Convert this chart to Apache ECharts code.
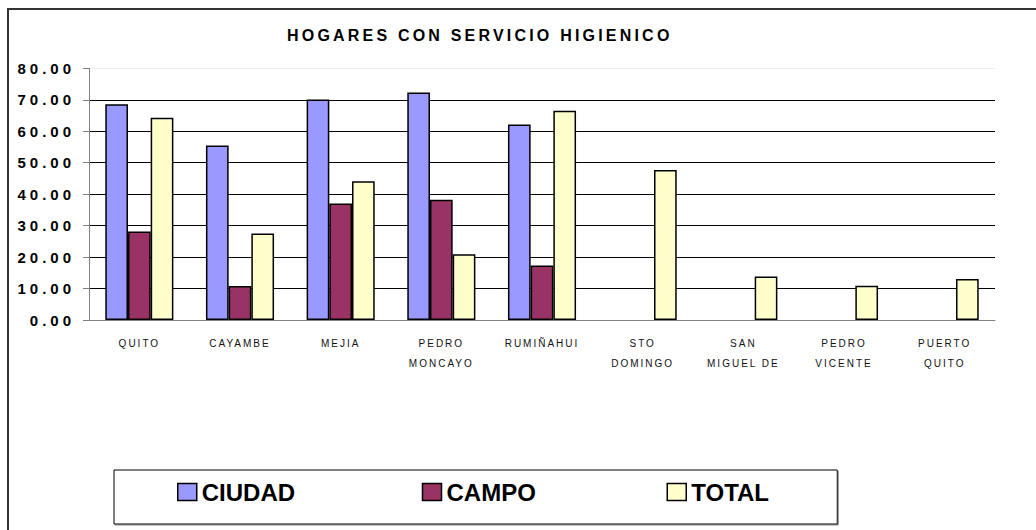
<!DOCTYPE html>
<html>
<head>
<meta charset="utf-8">
<title>Hogares con servicio higienico</title>
<script src="https://cdn.jsdelivr.net/npm/echarts@6/dist/echarts.min.js"></script>
<style>
    html, body { margin: 0; padding: 0; background: #fff; }
    #marco {
        position: absolute; left: 7px; top: 8px; width: 1040px; height: 540px;
        border-top: 2px solid #333; border-left: 2px solid #333;
    }
    #chart { position: absolute; left: 0; top: 0; width: 1036px; height: 530px; }
    /* espaciado de letras como en el original */
    #chart text { letter-spacing: 2px; }
    #chart text[style*="16px"] { letter-spacing: 3.2px; }
    #chart text[style*="15px"] { letter-spacing: 4px; }
    #chart text[style*="24px"] { letter-spacing: 0; }
</style>
</head>
<body>
<div id="marco"></div>
<div id="chart"></div>
<script>
    // datos
    const cantones = ['QUITO', 'CAYAMBE', 'MEJIA', 'PEDRO MONCAYO', 'RUMIÑAHUI',
        'STO DOMINGO', 'SAN MIGUEL DE', 'PEDRO VICENTE', 'PUERTO QUITO'];
    const ciudad = [68.6, 55.5, 70.1, 72.3, 62.1, null, null, null, null];
    const campo = [28.1, 10.8, 37.0, 38.2, 17.3, null, null, null, null];
    const total = [64.3, 27.5, 44.1, 20.9, 66.5, 47.7, 13.8, 10.9, 13.0];

    const colores = ['#9999FF', '#993366', '#FFFFCC'];

    let myChart = echarts.init(document.getElementById('chart'), null, {renderer: 'svg'});

    const serie = (name, data) => ({
        name: name,
        type: 'bar',
        data: data,
        barWidth: 22.7,
        barGap: '0%',
        itemStyle: {borderColor: '#000', borderWidth: 1.5}
    });

    myChart.setOption({
        animation: false,
        color: colores,
        title: {
            text: 'HOGARES CON SERVICIO HIGIENICO',
            left: 287,
            top: 26.5,
            padding: 0,
            textStyle: {
                fontFamily: 'Arial, Liberation Sans, sans-serif',
                fontSize: 16,
                fontWeight: 'bold',
                color: '#000',
                lineHeight: 18
            }
        },
        legend: {
            data: ['CIUDAD', 'CAMPO', 'TOTAL'],
            left: 114,
            top: 470,
            padding: [10, 46, 20, 63],
            itemGap: 120,
            itemWidth: 19,
            itemHeight: 17,
            icon: 'rect',
            borderColor: '#000',
            borderWidth: 1,
            backgroundColor: '#fff',
            shadowColor: '#888',
            shadowOffsetX: 1,
            shadowOffsetY: 1,
            itemStyle: {borderColor: '#000', borderWidth: 1.5},
            textStyle: {
                fontFamily: 'Arial, Liberation Sans, sans-serif',
                fontSize: 24,
                fontWeight: 'bold',
                color: '#000',
                width: 100,
                lineHeight: 24
            }
        },
        grid: {
            left: 89,
            right: 41,
            top: 68.3,
            bottom: 210,
            containLabel: false
        },
        xAxis: {
            type: 'category',
            data: cantones,
            axisLine: {lineStyle: {color: '#808080', width: 1}},
            axisTick: {length: 4, lineStyle: {color: '#808080'}},
            axisLabel: {
                interval: 0,
                margin: 13,
                fontFamily: 'Arial, Liberation Sans, sans-serif',
                fontSize: 10,
                color: '#111',
                lineHeight: 20,
                formatter: v => v.replace(' ', '\n')
            }
        },
        yAxis: {
            type: 'value',
            min: 0,
            max: 80,
            interval: 10,
            axisLine: {show: true, lineStyle: {color: '#808080', width: 1}},
            axisTick: {show: true, length: 6, lineStyle: {color: '#808080'}},
            axisLabel: {
                margin: 14,
                fontFamily: 'Arial, Liberation Sans, sans-serif',
                fontSize: 15,
                fontWeight: 'bold',
                color: '#000',
                formatter: v => v.toFixed(2)
            },
            splitLine: {
                lineStyle: {
                    color: ['#000', '#000', '#000', '#000', '#000', '#000', '#000', '#000', '#eeeeee'],
                    width: 1
                }
            }
        },
        series: [
            serie('CIUDAD', ciudad),
            serie('CAMPO', campo),
            serie('TOTAL', total)
        ]
    });
</script>
</body>
</html>
